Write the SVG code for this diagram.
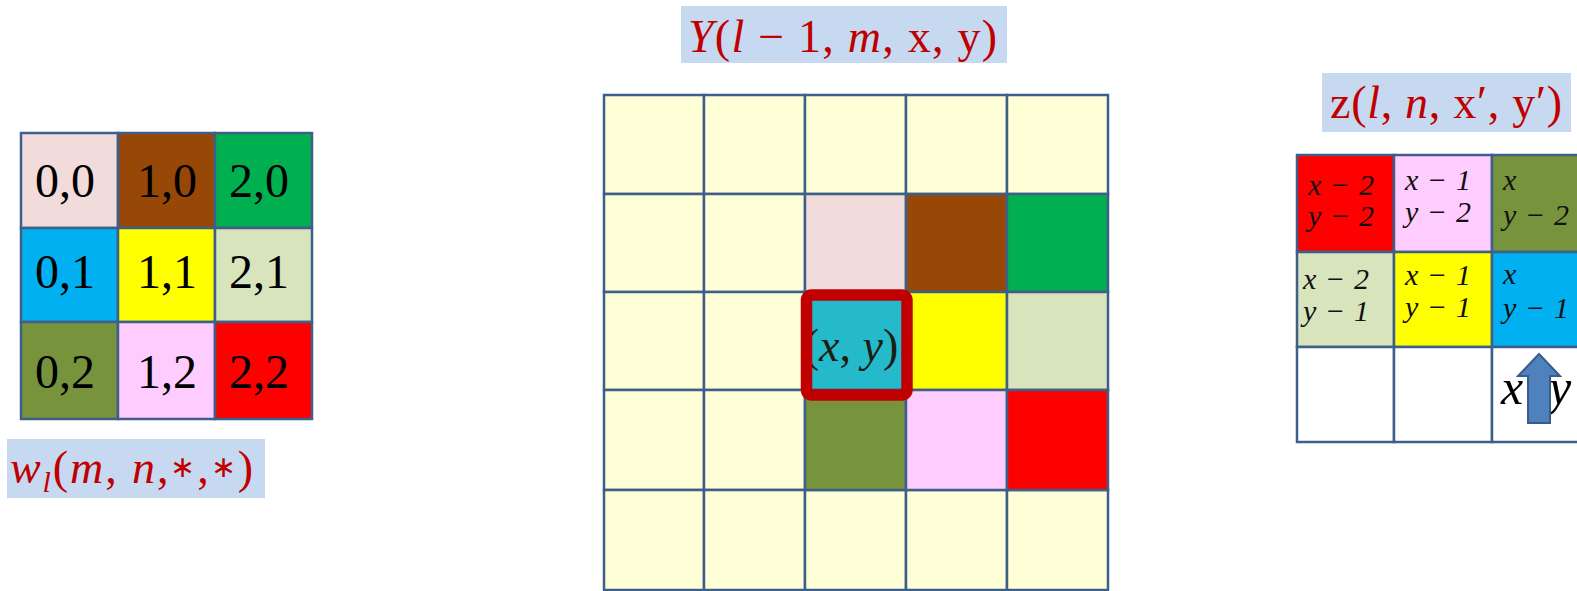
<svg xmlns="http://www.w3.org/2000/svg" width="1577" height="591" viewBox="0 0 1577 591">
<style>
.c{stroke:#3e5f8a;stroke-width:2.5}
.lbl{fill:#c6d9f0}
.rt{font-family:"Liberation Serif",serif;fill:#c00000;font-size:46px}
.num{font-family:"Liberation Serif",serif;font-size:48px;fill:#000;text-anchor:middle}
.m{font-family:"Liberation Serif",serif;font-style:italic;font-size:30px;fill:#111}
.big{font-family:"Liberation Serif",serif;font-style:italic;font-size:50px;fill:#000}
.i{font-style:italic}
</style>
<rect width="1577" height="591" fill="#fff"/>
<g id="kernel">
<rect class="c" x="21" y="133" width="97" height="95" fill="#f2dcdb"/>
<rect class="c" x="118" y="133" width="97" height="95" fill="#974706"/>
<rect class="c" x="215" y="133" width="97" height="95" fill="#00b050"/>
<rect class="c" x="21" y="228" width="97" height="94" fill="#00b0f0"/>
<rect class="c" x="118" y="228" width="97" height="94" fill="#ffff00"/>
<rect class="c" x="215" y="228" width="97" height="94" fill="#d8e4bc"/>
<rect class="c" x="21" y="322" width="97" height="97" fill="#77933c"/>
<rect class="c" x="118" y="322" width="97" height="97" fill="#ffccff"/>
<rect class="c" x="215" y="322" width="97" height="97" fill="#ff0000"/>
<text class="num" x="65" y="197">0,0</text>
<text class="num" x="167" y="197">1,0</text>
<text class="num" x="259" y="197">2,0</text>
<text class="num" x="65" y="288">0,1</text>
<text class="num" x="167" y="288">1,1</text>
<text class="num" x="259" y="288">2,1</text>
<text class="num" x="65" y="388">0,2</text>
<text class="num" x="167" y="388">1,2</text>
<text class="num" x="259" y="388">2,2</text>
</g>
<g id="kernel-label">
<rect class="lbl" x="7" y="439" width="258" height="59"/>
<text class="rt" x="10" y="483" textLength="243" lengthAdjust="spacing"><tspan class="i">w</tspan><tspan class="i" style="font-size:30px" dy="9">l</tspan><tspan dy="-9">(</tspan><tspan class="i">m</tspan>, <tspan class="i">n</tspan>,<tspan style="font-size:30px" dy="-6">∗</tspan><tspan dy="6">,</tspan><tspan style="font-size:30px" dy="-6">∗</tspan><tspan dy="6">)</tspan></text>
</g>
<g id="input-label">
<rect class="lbl" x="681" y="6" width="326" height="57"/>
<text class="rt" x="688" y="52" textLength="309" lengthAdjust="spacing"><tspan class="i">Y</tspan>(<tspan class="i">l</tspan> − 1, <tspan class="i">m</tspan>, x, y)</text>
</g>
<g id="input-grid">
<g fill="#ffffd7">
<rect class="c" x="604" y="95" width="100" height="99"/>
<rect class="c" x="704" y="95" width="101" height="99"/>
<rect class="c" x="805" y="95" width="101" height="99"/>
<rect class="c" x="906" y="95" width="101" height="99"/>
<rect class="c" x="1007" y="95" width="101" height="99"/>
<rect class="c" x="604" y="194" width="100" height="98"/>
<rect class="c" x="704" y="194" width="101" height="98"/>
<rect class="c" x="604" y="292" width="100" height="98"/>
<rect class="c" x="704" y="292" width="101" height="98"/>
<rect class="c" x="604" y="390" width="100" height="100"/>
<rect class="c" x="704" y="390" width="101" height="100"/>
<rect class="c" x="604" y="490" width="100" height="100"/>
<rect class="c" x="704" y="490" width="101" height="100"/>
<rect class="c" x="805" y="490" width="101" height="100"/>
<rect class="c" x="906" y="490" width="101" height="100"/>
<rect class="c" x="1007" y="490" width="101" height="100"/>
</g>
<rect class="c" x="805" y="194" width="101" height="98" fill="#f2dcdb"/>
<rect class="c" x="906" y="194" width="101" height="98" fill="#974706"/>
<rect class="c" x="1007" y="194" width="101" height="98" fill="#00b050"/>
<rect class="c" x="805" y="292" width="101" height="98" fill="#25b9cc"/>
<rect class="c" x="906" y="292" width="101" height="98" fill="#ffff00"/>
<rect class="c" x="1007" y="292" width="101" height="98" fill="#d8e4bc"/>
<rect class="c" x="805" y="390" width="101" height="100" fill="#77933c"/>
<rect class="c" x="906" y="390" width="101" height="100" fill="#ffccff"/>
<rect class="c" x="1007" y="390" width="101" height="100" fill="#ff0000"/>
<text x="851" y="361" font-family="Liberation Serif, serif" font-size="46" fill="#1e1e10" text-anchor="middle">(<tspan class="i">x</tspan>, <tspan class="i">y</tspan>)</text>
<rect x="806.5" y="295" width="100.5" height="100" rx="5" fill="none" stroke="#c00000" stroke-width="11.5"/>
</g>
<g id="output-label">
<rect class="lbl" x="1322" y="73" width="249" height="59"/>
<text class="rt" x="1330" y="118" textLength="232" lengthAdjust="spacing">z(<tspan class="i">l</tspan>, <tspan class="i">n</tspan>, x′, y′)</text>
</g>
<g id="output-grid">
<rect class="c" x="1297" y="155" width="97" height="97" fill="#ff0000"/>
<rect class="c" x="1394" y="155" width="98" height="97" fill="#ffccff"/>
<rect class="c" x="1492" y="155" width="100" height="97" fill="#77933c"/>
<rect class="c" x="1297" y="252" width="97" height="95" fill="#d8e4bc"/>
<rect class="c" x="1394" y="252" width="98" height="95" fill="#ffff00"/>
<rect class="c" x="1492" y="252" width="100" height="95" fill="#00b0f0"/>
<rect class="c" x="1297" y="347" width="97" height="95" fill="#fff"/>
<rect class="c" x="1394" y="347" width="98" height="95" fill="#fff"/>
<rect class="c" x="1492" y="347" width="100" height="95" fill="#fff"/>
<text class="m" x="1308" y="195" textLength="66" lengthAdjust="spacing">x − 2</text>
<text class="m" x="1308" y="226" textLength="66" lengthAdjust="spacing">y − 2</text>
<text class="m" x="1405" y="190" textLength="66" lengthAdjust="spacing">x − 1</text>
<text class="m" x="1405" y="222" textLength="66" lengthAdjust="spacing">y − 2</text>
<text class="m" x="1503" y="190">x</text>
<text class="m" x="1503" y="225" textLength="66" lengthAdjust="spacing">y − 2</text>
<text class="m" x="1303" y="289" textLength="66" lengthAdjust="spacing">x − 2</text>
<text class="m" x="1303" y="321" textLength="66" lengthAdjust="spacing">y − 1</text>
<text class="m" x="1405" y="285" textLength="66" lengthAdjust="spacing">x − 1</text>
<text class="m" x="1405" y="317" textLength="66" lengthAdjust="spacing">y − 1</text>
<text class="m" x="1503" y="284">x</text>
<text class="m" x="1503" y="318" textLength="66" lengthAdjust="spacing">y − 1</text>
<text class="big" x="1501" y="404">x</text>
<text class="big" x="1549" y="404">y</text>
<polygon points="1528,423 1528,376 1518,376 1539,354 1560,376 1550,376 1550,423" fill="#4f81bd" stroke="#385d8a" stroke-width="2"/>
</g>
</svg>
